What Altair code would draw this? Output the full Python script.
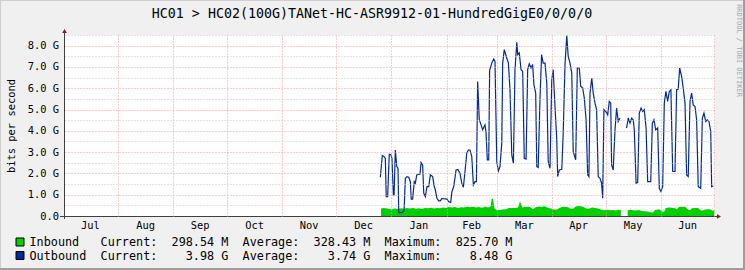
import altair as alt
import pandas as pd

# ---------------- data ----------------
TITLE = "HC01 > HC02(100G)TANet-HC-ASR9912-01-HundredGigE0/0/0/0"
Y_TITLE = "bits per second"
WATERMARK = "RRDTOOL / TOBI OETIKER"
START = "2022-07-01"

MONTHS = ["Jul", "Aug", "Sep", "Oct", "Nov", "Dec", "Jan", "Feb", "Mar", "Apr", "May", "Jun"]
MONTH_STARTS = ["2022-07-01", "2022-08-01", "2022-09-01", "2022-10-01", "2022-11-01",
                "2022-12-01", "2023-01-01", "2023-02-01", "2023-03-01", "2023-04-01",
                "2023-05-01", "2023-06-01", "2023-07-01"]

# Outbound (G bits/s) - day offsets from START
out_days = [177.9, 179.0, 180.0, 180.7, 181.2, 182.0, 182.9, 183.9, 184.4, 185.2, 185.6, 186.3,
            187.1, 187.8, 188.2, 190.0, 191.2, 191.9, 192.8, 193.8, 194.7, 195.2, 196.0, 196.9,
            197.5, 198.3, 199.4, 200.1, 200.7, 201.6, 202.2, 203.1, 204.0, 205.0, 205.9, 207.2,
            208.1, 208.7, 209.6, 210.6, 211.5, 212.4, 214.3, 215.2, 216.2, 217.3, 218.0, 219.0,
            220.3, 221.4, 222.5, 223.5, 224.4, 225.3, 226.3, 227.2, 228.1, 229.1, 230.0, 230.9,
            231.7, 232.4, 233.3, 234.3, 235.2, 236.5, 237.1, 237.8, 238.6, 239.1, 240.3, 241.4,
            242.1, 243.1, 244.0, 244.9, 245.9, 246.4, 247.3, 248.7, 249.6, 250.5, 251.5, 252.4,
            253.3, 254.3, 254.8, 255.7, 256.7, 257.6, 258.5, 259.5, 260.4, 261.3, 262.3, 263.2,
            263.9, 264.9, 265.5, 266.3, 267.3, 268.2, 269.1, 270.1, 271.1, 271.9, 272.9, 273.9,
            274.7, 275.7, 276.7, 277.2, 278.1, 279.5, 280.3, 281.3, 282.3, 283.1, 284.1, 285.1,
            285.9, 287.3, 288.2, 289.3, 290.1, 291.2, 292.1, 293.1, 294.0, 294.7, 295.3, 296.3,
            297.1, 298.1, 299.0, 299.9, 300.9, 301.8, 302.4, 303.1, 304.1, 305.2, 306.1, 306.9,
            307.4, 308.3, 309.3, 310.2, 311.1, 312.1, 314.0, 315.8, 316.7, 317.7, 318.6, 319.5,
            320.1, 321.1, 322.0, 322.9, 323.9, 324.8, 325.7, 326.7, 327.6, 329.3, 330.2, 331.1,
            332.1, 333.2, 334.1, 335.0, 336.0, 336.9, 337.8, 338.8, 339.7, 340.6, 341.6, 342.9,
            343.8, 344.7, 345.5, 346.6, 347.5, 348.5, 349.4, 350.3, 351.3, 352.2, 353.1, 354.1,
            355.0, 355.9, 357.3, 358.2, 359.1, 360.1, 361.0, 361.9, 362.9, 363.4, 364.3]
out_vals = [1.82, 2.84, 2.79, 2.70, 0.91, 0.91, 2.90, 2.87, 2.70, 0.99, 0.99, 3.10,
            2.32, 2.24, 0.16, 0.16, 0.25, 1.77, 1.85, 1.82, 1.61, 0.79, 0.79, 1.61,
            1.54, 1.93, 1.96, 1.96, 2.51, 2.40, 1.07, 0.91, 1.38, 1.38, 1.93, 1.85,
            1.38, 1.22, 0.83, 0.71, 0.71, 0.83, 0.80, 0.79, 0.67, 0.64, 1.15, 1.38,
            2.16, 2.19, 2.00, 1.54, 1.35, 2.09, 2.95, 3.10, 3.10, 2.79, 1.46, 1.61,
            1.61, 6.32, 4.52, 4.28, 4.05, 4.28, 3.89, 2.64, 2.64, 6.84, 7.18, 7.37,
            7.26, 2.56, 2.12, 2.32, 3.42, 7.18, 7.81, 7.42, 7.18, 5.93, 2.87, 2.48,
            6.87, 8.16, 7.58, 7.66, 6.87, 6.79, 2.71, 2.67, 6.87, 7.15, 6.95, 7.11,
            6.16, 5.77, 2.32, 2.28, 5.50, 7.58, 7.18, 7.18, 6.24, 2.56, 2.24, 6.40,
            6.87, 5.14, 3.58, 1.85, 2.16, 2.19, 3.89, 7.11, 8.48, 7.50, 7.18, 6.71,
            3.03, 2.64, 6.95, 6.95, 6.09, 6.01, 5.54, 4.52, 1.93, 1.85, 5.77, 6.48,
            5.77, 5.30, 4.99, 1.85, 1.77, 1.54, 0.83, 4.99, 4.91, 4.75, 5.38, 5.30,
            2.40, 2.16, 4.05, 5.07, 4.44, 4.60, None, 4.13, 4.60, 4.36, 4.60, 4.52,
            4.05, 1.54, 1.57, 4.83, 5.07, 4.91, 4.99, 4.13, 1.61, 1.61, 4.36, 4.52,
            4.05, 4.13, 1.30, 1.15, 1.38, 5.30, 5.85, 5.38, 5.85, 5.93, 2.09, 2.09,
            5.93, 5.96, 6.95, 6.56, 6.01, 5.30, 1.93, 1.85, 5.38, 5.77, 5.22, 5.14,
            4.52, 1.38, 1.30, 4.60, 4.83, 4.44, 4.52, 4.44, 3.97, 1.38, 1.41]

# Inbound (G bits/s) - day offsets from START
in_days = [178.3, 179.4, 181.1, 182.8, 184.4, 186.1, 187.8, 189.5, 191.2, 192.8, 194.5, 196.2,
           197.9, 199.5, 201.2, 202.9, 204.6, 206.3, 207.9, 209.6, 211.3, 213.0, 214.7, 216.3,
           218.0, 219.7, 221.4, 223.1, 224.7, 226.4, 228.1, 229.8, 231.5, 233.1, 234.8, 236.5,
           238.2, 239.6, 240.3, 241.0, 241.8, 243.2, 244.9, 246.6, 248.3, 249.9, 251.6, 253.3,
           255.0, 256.1, 256.7, 257.5, 258.9, 260.6, 261.7, 263.4, 265.1, 266.7, 268.4, 270.1,
           271.8, 273.5, 275.1, 276.8, 277.9, 279.6, 281.3, 283.0, 284.1, 285.8, 287.5, 289.7,
           291.4, 293.1, 294.7, 296.4, 298.1, 299.8, 301.4, 303.1, 304.8, 306.5, 308.2, 309.8,
           311.5, 312.6, 314.0, 316.4, 317.7, 319.4, 321.0, 322.7, 324.4, 326.1, 327.8, 329.4,
           330.6, 331.7, 333.4, 334.5, 335.6, 336.7, 337.8, 339.5, 341.2, 342.9, 344.0, 345.1,
           346.8, 348.5, 350.2, 351.3, 352.4, 354.1, 355.8, 356.9, 358.0, 359.7, 361.4, 363.0,
           364.2, 364.9]
in_vals = [0.34, 0.38, 0.36, 0.33, 0.31, 0.35, 0.33, 0.36, 0.34, 0.37, 0.35, 0.38,
           0.34, 0.36, 0.33, 0.37, 0.36, 0.39, 0.35, 0.38, 0.36, 0.40, 0.38, 0.42,
           0.40, 0.42, 0.38, 0.41, 0.40, 0.43, 0.41, 0.44, 0.40, 0.42, 0.39, 0.43,
           0.40, 0.45, 0.82, 0.80, 0.35, 0.27, 0.28, 0.31, 0.32, 0.38, 0.37, 0.38,
           0.40, 0.69, 0.55, 0.40, 0.42, 0.43, 0.42, 0.31, 0.42, 0.45, 0.43, 0.46,
           0.38, 0.35, 0.31, 0.30, 0.36, 0.42, 0.43, 0.41, 0.35, 0.34, 0.46, 0.47,
           0.44, 0.35, 0.34, 0.40, 0.38, 0.35, 0.30, 0.27, 0.29, 0.27, 0.28, 0.26,
           0.29, 0.28, None, 0.27, 0.29, 0.27, 0.26, 0.28, 0.24, 0.22, 0.21, 0.17,
           0.16, 0.28, 0.31, 0.30, 0.20, 0.19, 0.38, 0.40, 0.39, 0.36, 0.30, 0.42,
           0.44, 0.43, 0.30, 0.27, 0.36, 0.38, 0.37, 0.29, 0.25, 0.31, 0.32, 0.31,
           0.24, 0.30]

SERIES = ["Inbound", "Outbound"]
CURRENT = ["298.54 M", "3.98 G"]
AVERAGE = ["328.43 M", "3.74 G"]
MAXIMUM = ["825.70 M", "8.48 G"]

# ---------------- styles ----------------
GREEN = "#00CF00"
BLUE = "#002A97"
COLORS = [GREEN, BLUE]
MAJOR = "#F09A9A"
MINOR = "#C8C8C8"
AXIS = "#404040"
ARROW = "#8B1A1A"
BACK = "#F0F0F0"
FONT = "DejaVu Sans Mono"
W, H = 650, 181

start = pd.Timestamp(START)
out_df = pd.DataFrame({"date": start + pd.to_timedelta(out_days, unit="D"), "v": out_vals})
in_df = pd.DataFrame({"date": start + pd.to_timedelta(in_days, unit="D"), "v": in_vals})

ms = pd.to_datetime(MONTH_STARTS)
mid = [ms[i] + (ms[i + 1] - ms[i]) / 2 for i in range(len(MONTHS))]
month_df = pd.DataFrame({"date": mid, "m": MONTHS})

X_DOMAIN = [alt.DateTime(year=2022, month=7, date=2, hours=8),
            alt.DateTime(year=2023, month=7, date=1, hours=7)]
Y_VALUES = [i * 0.5 for i in range(0, 18)]


def xenc():
    return alt.X(
        "date:T",
        scale=alt.Scale(domain=X_DOMAIN),
        axis=alt.Axis(grid=True, gridColor=MAJOR, gridDash=[1, 2],
                      tickCount=alt.TimeIntervalStep(interval="month", step=1),
                      labels=False, ticks=False, tickSize=0, domain=False,
                      title=None, zindex=1),
    )


def yenc():
    return alt.Y(
        "v:Q",
        stack=None,
        scale=alt.Scale(domain=[0, 8.5], nice=False, zero=True),
        axis=alt.Axis(
            values=Y_VALUES, grid=True,
            gridColor={"condition": {"test": "datum.value % 1 === 0", "value": MAJOR}, "value": MINOR},
            gridOpacity={"condition": {"test": "datum.value === 0", "value": 0}, "value": 1},
            gridDash=[1, 2],
            labelExpr="datum.value === 0 ? '0.0' : (datum.value % 1 === 0 ? format(datum.value, '.1f') + ' G' : '')",
            labelFont=FONT, labelFontSize=10.4, labelColor="black", labelPadding=6.5,
            labelOverlap=False, labelBaseline="middle",
            ticks=False, tickSize=0, domain=False,
            title=Y_TITLE, titleFont=FONT, titleFontSize=10.4, titleFontWeight="normal",
            titleColor="black", titleX=-54, titleY=90.5, titleAngle=270,
            titleAlign="center", titleBaseline="middle", zindex=1,
        ),
    )


one = pd.DataFrame({"k": [0]})

inbound = alt.Chart(in_df).mark_area(color=GREEN, interpolate="linear").encode(x=xenc(), y=yenc())
outbound = alt.Chart(out_df).mark_line(color=BLUE, strokeWidth=1.2, interpolate="linear").encode(x=xenc(), y=yenc())

month_labels = alt.Chart(month_df).mark_text(
    font=FONT, fontSize=10.4, color="black", align="center", baseline="middle"
).encode(x=xenc(), y=alt.value(190.5), text="m:N")


def rule(x, x2, y, y2, color, width=1):
    return alt.Chart(one).mark_rule(color=color, strokeWidth=width).encode(
        x=alt.value(x), x2=alt.value(x2), y=alt.value(y), y2=alt.value(y2))


x_axis = rule(-5, 652, H + 0.5, H + 0.5, AXIS)
y_axis = rule(-0.5, -0.5, -3, H + 3, AXIS)
arrow_up = alt.Chart(one).mark_point(shape="triangle-up", filled=True, size=22, color=ARROW, opacity=1).encode(
    x=alt.value(-0.5), y=alt.value(-4))
arrow_right = alt.Chart(one).mark_point(shape="triangle-right", filled=True, size=22, color=ARROW, opacity=1).encode(
    x=alt.value(654), y=alt.value(H + 0.5))

frame = [
    rule(-65, 680, -34.5, -34.5, "#CFCFCF"),
    rule(-64.5, -64.5, -35, 235, "#CFCFCF"),
    rule(679, 679, -35, 235, "#9E9E9E", 2),
    rule(-65, 680, 234, 234, "#9E9E9E", 2),
]

title = alt.Chart(one).mark_text(
    text=TITLE, font=FONT, fontSize=13.3, color="black", align="center", baseline="middle"
).encode(x=alt.value(307), y=alt.value(-21))

watermark = alt.Chart(one).mark_text(
    text=WATERMARK, font=FONT, fontSize=7, color="#A8A8A8", align="center", baseline="middle", angle=90
).encode(x=alt.value(674), y=alt.value(15.5))

legend_layers = []
row_y = [207, 220.5]
for i, name in enumerate(SERIES):
    line = f"{name:<10}Current:  {CURRENT[i]:>8}  Average:  {AVERAGE[i]:>8}  Maximum:  {MAXIMUM[i]:>8}"
    line = line.replace(" ", "\u00a0")
    ldf = pd.DataFrame({"t": [line]})
    legend_layers.append(
        alt.Chart(ldf).mark_text(font=FONT, fontSize=11.8, color="black", align="left", baseline="middle")
        .encode(x=alt.value(-35.5), y=alt.value(row_y[i]), text="t:N"))
    legend_layers.append(
        alt.Chart(one).mark_rect(fill=COLORS[i], stroke="black", strokeWidth=1).encode(
            x=alt.value(-49), x2=alt.value(-41), y=alt.value(row_y[i] - 4), y2=alt.value(row_y[i] + 4)))

chart = alt.layer(
    inbound, outbound, month_labels, x_axis, y_axis, arrow_up, arrow_right,
    title, watermark, *frame, *legend_layers
).properties(
    width=W, height=H,
    padding={"left": 65, "top": 35, "right": 30, "bottom": 54},
    autosize=alt.AutoSizeParams(type="none"),
    background=BACK,
).configure_view(fill="white", strokeWidth=0)

chart.save("out.html", embed_options={"renderer": "svg", "actions": False})
